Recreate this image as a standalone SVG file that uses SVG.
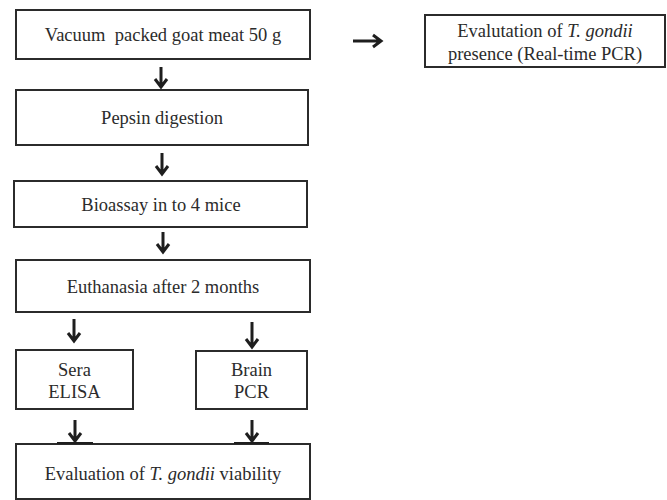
<svg xmlns="http://www.w3.org/2000/svg" width="667" height="500" viewBox="0 0 667 500">
<style>
.box{fill:#fff;stroke:#2b2b2b;stroke-width:2}
.t{font-family:"Liberation Serif","Times New Roman",serif;font-size:18.5px;fill:#2b2b2b;text-anchor:middle}
.i{font-style:italic}
.ar{fill:none;stroke:#1e1e1e;stroke-width:3;stroke-linejoin:miter;stroke-linecap:butt}
.bar{stroke:#1e1e1e;stroke-width:2}
</style>
<rect width="667" height="500" fill="#fff"/>
<g id="n1"><rect class="box" x="16" y="10" width="294" height="49"/><text class="t" x="163" y="41" xml:space="preserve">Vacuum  packed goat meat 50 g</text></g>
<g id="n2"><rect class="box" x="425" y="15" width="240" height="52"/><text class="t" x="545" y="37">Evalutation of <tspan class="i">T. gondii</tspan></text><text class="t" x="545" y="60">presence (Real-time PCR)</text></g>
<g id="n3"><rect class="box" x="16" y="90" width="292" height="55"/><text class="t" x="162" y="124">Pepsin digestion</text></g>
<g id="n4"><rect class="box" x="14" y="181" width="293" height="46"/><text class="t" x="161" y="211">Bioassay in to 4 mice</text></g>
<g id="n5"><rect class="box" x="16" y="260" width="294" height="52"/><text class="t" x="163" y="293">Euthanasia after 2 months</text></g>
<g id="n6"><rect class="box" x="16" y="350" width="117" height="59"/><text class="t" x="74.5" y="376">Sera</text><text class="t" x="74.5" y="398">ELISA</text></g>
<g id="n7"><rect class="box" x="196" y="351" width="111" height="58"/><text class="t" x="251.5" y="376">Brain</text><text class="t" x="251.5" y="398">PCR</text></g>
<g id="n8"><rect class="box" x="16" y="444" width="294" height="55"/><text class="t" x="163" y="480">Evaluation of <tspan class="i">T. gondii</tspan> viability</text></g>
<g id="connectors">
<path class="ar" d="M353 41H381M373 35L381 41L373 47"/>
<path class="ar" d="M161 67V87M155 79L161 87L167 79"/>
<path class="ar" d="M162 153V174M156 166L162 174L168 166"/>
<path class="ar" d="M163 232V252M157 244L163 252L169 244"/>
<path class="ar" d="M74 319V341M68 333L74 341L80 333"/>
<path class="ar" d="M252 322V347M246 339L252 347L258 339"/>
<path class="ar" d="M75 420V441M69 433L75 441L81 433"/>
<line class="bar" x1="57" y1="443" x2="93" y2="443"/>
<path class="ar" d="M252 420V441M246 433L252 441L258 433"/>
<line class="bar" x1="234" y1="443" x2="269" y2="443"/>
</g>
</svg>
